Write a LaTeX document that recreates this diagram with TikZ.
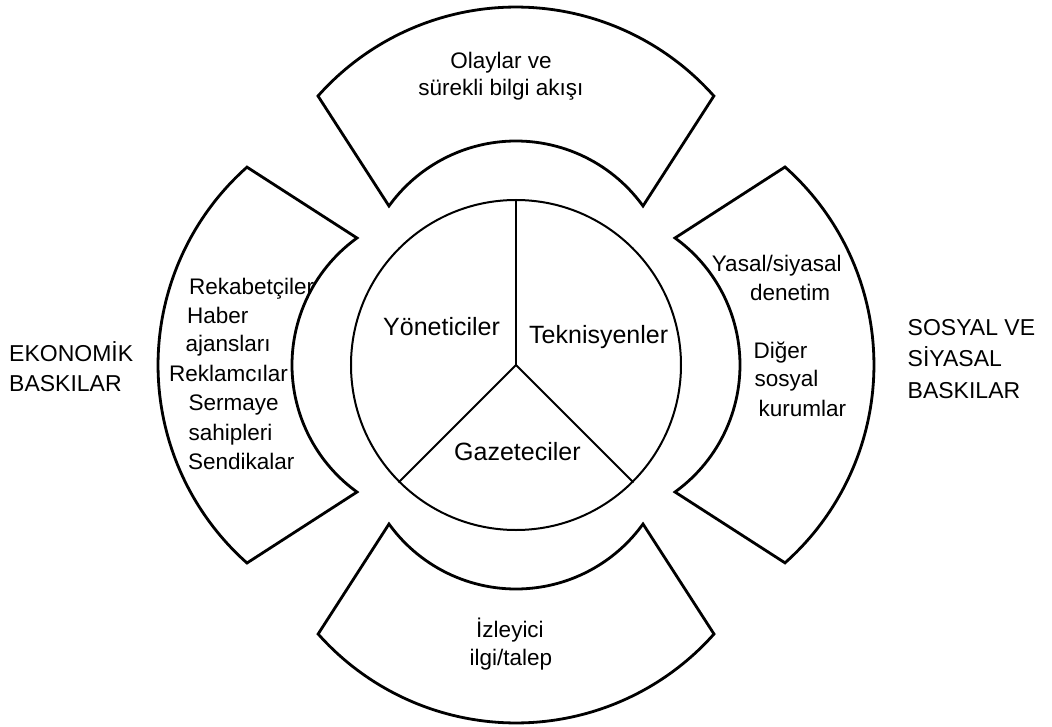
\documentclass[tikz,border=0pt]{standalone}
\usepackage{fontspec}
\setmainfont{Liberation Sans}
\begin{document}
\begin{tikzpicture}[x=1pt,y=1pt,
  bandline/.style={draw=black,line width=2.8pt},
  hubline/.style={draw=black,line width=2pt},
  bandtext/.style={inner sep=0pt,font=\fontsize{22.5}{27}\selectfont},
  hubtext/.style={inner sep=0pt,font=\fontsize{25}{30}\selectfont},
  sidetext/.style={inner sep=0pt,font=\fontsize{23}{28}\selectfont},
  band/.pic={
    \path[bandline] (-198,269) arc[start angle=138.4,end angle=41.6,radius=264.7]
      -- (127,159) arc[start angle=35.8,end angle=144.2,radius=156.6] -- cycle;
  }]
\useasboundingbox (-516,-361) rectangle (536,365);

% four outer bands around the hub
\pic[rotate=0]   {band};
\pic[rotate=90]  {band};
\pic[rotate=180] {band};
\pic[rotate=-90] {band};

% central hub split in three
\node[circle,hubline,minimum size=330pt,inner sep=0pt] (hub) at (0,0) {};
\coordinate (hc) at (0,0);
\draw[hubline] (hc) -- (hub.north);
\draw[hubline] (hc) -- (hub.south west);
\draw[hubline] (hc) -- (hub.south east);

\node[hubtext,anchor=base west] (yon) at (-133,30) {Yöneticiler};
\node[hubtext,anchor=base west] (tek) at (13,21.7) {Teknisyenler};
\node[hubtext,anchor=base west] (gaz) at (-62,-95) {Gazeteciler};

% top band
\node[bandtext,anchor=base] (ol1) at (-15,296.7) {Olaylar ve};
\node[bandtext,anchor=base] (ol2) at (-15,269) {sürekli bilgi akışı};

% bottom band
\node[bandtext,anchor=base] (iz1) at (-6,-272.3) {İzleyici};
\node[bandtext,anchor=base] (iz2) at (-5,-300.7) {ilgi/talep};

% left band
\node[bandtext,anchor=base west] (ek1) at (-327,71) {Rekabetçiler};
\node[bandtext,anchor=base west] (ek2) at (-329,41.7) {Haber};
\node[bandtext,anchor=base west] (ek3) at (-330.5,13.3) {ajansları};
\node[bandtext,anchor=base west] (ek4) at (-347,-16.7) {Reklamcılar};
\node[bandtext,anchor=base west] (ek5) at (-327.5,-45.7) {Sermaye};
\node[bandtext,anchor=base west] (ek6) at (-327.5,-75) {sahipleri};
\node[bandtext,anchor=base west] (ek7) at (-328,-104.3) {Sendikalar};

% right band
\node[bandtext,anchor=base west] (sy1) at (195.7,93.3) {Yasal/siyasal};
\node[bandtext,anchor=base west] (sy2) at (234,65) {denetim};
\node[bandtext,anchor=base west] (sy3) at (237.5,6.7) {Diğer};
\node[bandtext,anchor=base west] (sy4) at (238.5,-21.7) {sosyal};
\node[bandtext,anchor=base west] (sy5) at (242.5,-51.7) {kurumlar};

% pressure labels at the sides
\node[sidetext,anchor=base west] (lp1) at (-507,3.3) {EKONOMİK};
\node[sidetext,anchor=base west] (lp2) at (-507,-26.7) {BASKILAR};
\node[sidetext,anchor=base west] (rp1) at (391.5,30) {SOSYAL VE};
\node[sidetext,anchor=base west] (rp2) at (391.5,-1.7) {SİYASAL};
\node[sidetext,anchor=base west] (rp3) at (391.5,-33.3) {BASKILAR};
\end{tikzpicture}
\end{document}
